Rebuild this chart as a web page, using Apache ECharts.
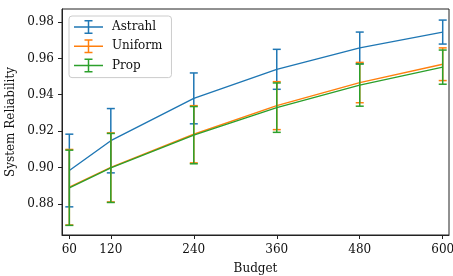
<!DOCTYPE html>
<html>
<head>
<meta charset="utf-8">
<script src="https://cdn.jsdelivr.net/npm/echarts@6/dist/echarts.min.js"></script>
<style>
html,body{margin:0;padding:0;background:#fff;}
#chart{width:453px;height:276px;}
</style>
</head>
<body>
<div id="chart"></div>
<script>
var budgets = [60, 120, 240, 360, 480, 600];
var yTicks = [0.88, 0.90, 0.92, 0.94, 0.96, 0.98];
var astrahlMean = [0.8983, 0.9147, 0.9380, 0.9540, 0.9658, 0.9745];
var astrahlErr  = [0.0200, 0.0177, 0.0140, 0.0110, 0.0087, 0.0066];
var uniformMean = [0.8891, 0.9000, 0.91825, 0.9340, 0.9467, 0.9568];
var uniformErr  = [0.0208, 0.0190, 0.01575, 0.0132, 0.0111, 0.0090];
var propMean    = [0.8888, 0.8997, 0.91775, 0.9329, 0.9453, 0.9552];
var propErr     = [0.0207, 0.0190, 0.01575, 0.0136, 0.0116, 0.0094];

var names = ['Astrahl', 'Uniform', 'Prop'];
var colors = ['#1f77b4', '#ff7f0e', '#2ca02c'];
var means = [astrahlMean, uniformMean, propMean];
var errs = [astrahlErr, uniformErr, propErr];

var FONT = 'DejaVu Serif';
var TXT = '#111';
var series = [];
names.forEach(function (name, i) {
  series.push({
    name: name,
    type: 'line',
    symbol: 'none',
    data: budgets.map(function (b, j) { return [b, means[i][j]]; }),
    lineStyle: { color: colors[i], width: 1.4 },
    itemStyle: { color: colors[i] },
    z: 2 + i * 2,
    silent: true,
    animation: false
  });
  series.push({
    name: name,
    type: 'custom',
    data: budgets.map(function (b, j) { return [b, means[i][j], errs[i][j]]; }),
    encode: { x: 0, y: 1 },
    z: 3 + i * 2,
    silent: true,
    animation: false,
    itemStyle: { color: colors[i] },
    renderItem: function (params, api) {
      var x = api.value(0), m = api.value(1), e = api.value(2);
      var top = api.coord([x, m + e]);
      var bot = api.coord([x, m - e]);
      var cw = 4;
      var st = { stroke: colors[i], lineWidth: 1.5 };
      return {
        type: 'group',
        children: [
          { type: 'line', shape: { x1: top[0], y1: top[1], x2: bot[0], y2: bot[1] }, style: st },
          { type: 'line', shape: { x1: top[0] - cw, y1: top[1], x2: top[0] + cw, y2: top[1] }, style: st },
          { type: 'line', shape: { x1: bot[0] - cw, y1: bot[1], x2: bot[0] + cw, y2: bot[1] }, style: st }
        ]
      };
    }
  });
});

var iconPath = 'path://M0 6.25h29v1.5H0z M13.75 0.75h1.5v12.5h-1.5z M10.5 0h8v1.5h-8z M10.5 12.5h8v1.5h-8z';

var chart = echarts.init(document.getElementById('chart'), null, { renderer: 'canvas' });
chart.setOption({
  animation: false,
  backgroundColor: '#fff',
  textStyle: { fontFamily: FONT },
  grid: {
    left: 62, right: 4, top: 9, bottom: 41,
    containLabel: false,
    outerBoundsMode: 'none',
    show: true, borderColor: '#222', borderWidth: 1, backgroundColor: 'transparent'
  },
  legend: {
    data: names,
    left: 69, top: 16,
    orient: 'vertical',
    icon: iconPath,
    symbolKeepAspect: false,
    itemWidth: 29, itemHeight: 14, itemGap: 5.3,
    padding: [4, 9, 5, 5],
    backgroundColor: 'rgba(255,255,255,0.8)',
    borderColor: '#cccccc', borderWidth: 1, borderRadius: 3,
    itemStyle: { borderWidth: 0 },
    textStyle: { fontFamily: FONT, fontSize: 12, color: TXT, padding: [0, 0, 0, 4] },
    selectedMode: false
  },
  xAxis: {
    type: 'value',
    min: 49.4, max: 609.1,
    name: 'Budget',
    nameLocation: 'middle',
    nameGap: 28,
    nameTextStyle: { fontFamily: FONT, fontSize: 12, color: TXT },
    axisLine: { show: true, lineStyle: { color: '#222', width: 1 } },
    axisTick: { show: true, length: 4, customValues: budgets, lineStyle: { color: '#222', width: 1 } },
    axisLabel: { customValues: budgets, margin: 9, fontFamily: FONT, fontSize: 12, color: TXT },
    splitLine: { show: false }
  },
  yAxis: {
    type: 'value',
    min: 0.8628, max: 0.9872,
    name: 'System Reliability',
    nameLocation: 'middle',
    nameGap: 36,
    nameTextStyle: { fontFamily: FONT, fontSize: 12, color: TXT },
    axisLine: { show: true, lineStyle: { color: '#222', width: 1 } },
    axisTick: { show: true, length: 4, customValues: yTicks, lineStyle: { color: '#222', width: 1 } },
    axisLabel: {
      customValues: yTicks, margin: 8, fontFamily: FONT, fontSize: 12, color: TXT,
      formatter: function (v) { return v.toFixed(2); }
    },
    splitLine: { show: false }
  },
  series: series
});
</script>
</body>
</html>
